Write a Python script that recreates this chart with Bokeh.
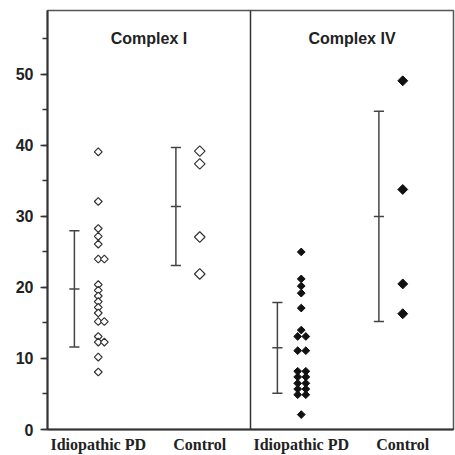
import numpy as np
from bokeh.plotting import figure
from bokeh.models import FixedTicker, SingleIntervalTicker, Span
from bokeh.core.properties import value
from bokeh.embed import file_html
from bokeh.resources import INLINE

# ---- data ----
group_labels = ["Idiopathic PD", "Control", "Idiopathic PD", "Control"]
panel_titles = ["Complex I", "Complex IV"]

pd_complex1 = [39.1, 32.1, 28.3, 27.2, 26.1, 24.0, 24.0, 20.4, 19.6, 18.8,
               18.0, 17.2, 16.4, 15.2, 15.2, 13.1, 12.3, 12.3, 10.2, 8.1]
ctrl_complex1 = [39.2, 37.4, 27.1, 21.9]
pd_complex4 = [25.0, 21.2, 20.2, 19.2, 17.1, 14.0, 13.1, 13.1, 11.1, 11.1,
               8.2, 8.2, 7.4, 7.4, 6.5, 6.5, 5.7, 5.7, 4.9, 4.9, 2.1]
ctrl_complex4 = [49.1, 33.8, 20.5, 16.3]

err_mean = [19.8, 31.4, 11.5, 30.0]
err_sd = [8.2, 8.3, 6.4, 14.8]

# ---- layout helpers ----
group_pos = [1, 2, 3, 4]
err_shift = -0.235
cap_half = 0.05


def dodge(vals, base, offsets):
    xs = []
    seen = {}
    for v in vals:
        k = seen.get(v, 0)
        if vals.count(v) == 1:
            xs.append(base)
        else:
            xs.append(base + offsets[k])
        seen[v] = k + 1
    return xs


p = figure(width=455, height=455, output_backend="svg", toolbar_location=None,
           x_range=(0.5, 4.5), y_range=(0, 59),
           min_border_left=47, min_border_right=2, min_border_top=10, min_border_bottom=24)

p.background_fill_color = "white"
p.border_fill_color = "white"
p.outline_line_color = "#555555"
p.outline_line_width = 1.5
p.grid.visible = False

# y axis
yax = p.yaxis[0]
yax.ticker = SingleIntervalTicker(interval=10, num_minor_ticks=2)
yax.axis_line_color = "#333333"
yax.axis_line_width = 2
yax.major_tick_line_color = "#333333"
yax.major_tick_line_width = 1.5
yax.major_tick_out = 7
yax.major_tick_in = 0
yax.minor_tick_line_color = "#333333"
yax.minor_tick_line_width = 1.5
yax.minor_tick_out = 5
yax.minor_tick_in = 0
yax.major_label_text_font = "Liberation Sans"
yax.major_label_text_font_style = "bold"
yax.major_label_text_font_size = "16px"
yax.major_label_text_color = "#222222"
yax.major_label_standoff = 7

# x axis
xax = p.xaxis[0]
xax.ticker = FixedTicker(ticks=group_pos)
xax.major_label_overrides = {pos: lab for pos, lab in zip(group_pos, group_labels)}
xax.axis_line_color = "#333333"
xax.axis_line_width = 2
xax.major_tick_line_color = None
xax.minor_tick_line_color = None
xax.major_tick_out = 0
xax.major_tick_in = 0
xax.major_label_text_font = "Liberation Serif"
xax.major_label_text_font_style = "bold"
xax.major_label_text_font_size = "16px"
xax.major_label_text_color = "#222222"
xax.major_label_standoff = 6

# panel divider
p.add_layout(Span(location=2.5, dimension="height", line_color="#333333", line_width=1.5))

# panel titles
p.text(x=[1.5, 3.5], y=[55, 55], text=panel_titles,
       text_font=value("Liberation Sans"), text_font_style="bold",
       text_font_size="16px", text_color="#222222",
       text_align="center", text_baseline="middle")

# error bars
ex = [g + err_shift for g in group_pos]
lo = [m - s for m, s in zip(err_mean, err_sd)]
hi = [m + s for m, s in zip(err_mean, err_sd)]
ebc = "#444444"
p.segment(x0=ex, y0=lo, x1=ex, y1=hi, line_color=ebc, line_width=1.5)
for ys in (lo, hi, err_mean):
    p.segment(x0=[x - cap_half for x in ex], y0=ys, x1=[x + cap_half for x in ex], y1=ys,
              line_color=ebc, line_width=1.5)

# points
x_pd1 = dodge(pd_complex1, group_pos[0], [0.0, 0.06])
x_c1 = [group_pos[1]] * len(ctrl_complex1)
x_pd4 = dodge(pd_complex4, group_pos[2], [-0.035, 0.045])
x_c4 = [group_pos[3]] * len(ctrl_complex4)

ang = np.pi / 4
p.scatter(x=x_pd1, y=pd_complex1, marker="square", angle=ang, size=5.5,
          fill_color="white", line_color="#333333", line_width=1.2)
p.scatter(x=x_c1, y=ctrl_complex1, marker="square", angle=ang, size=7.5,
          fill_color="white", line_color="#333333", line_width=1.2)
p.scatter(x=x_pd4, y=pd_complex4, marker="square", angle=ang, size=5.5,
          fill_color="#111111", line_color="#111111", line_width=1)
p.scatter(x=x_c4, y=ctrl_complex4, marker="square", angle=ang, size=7,
          fill_color="#111111", line_color="#111111", line_width=1)

open("out.html", "w").write(file_html(p, INLINE))
